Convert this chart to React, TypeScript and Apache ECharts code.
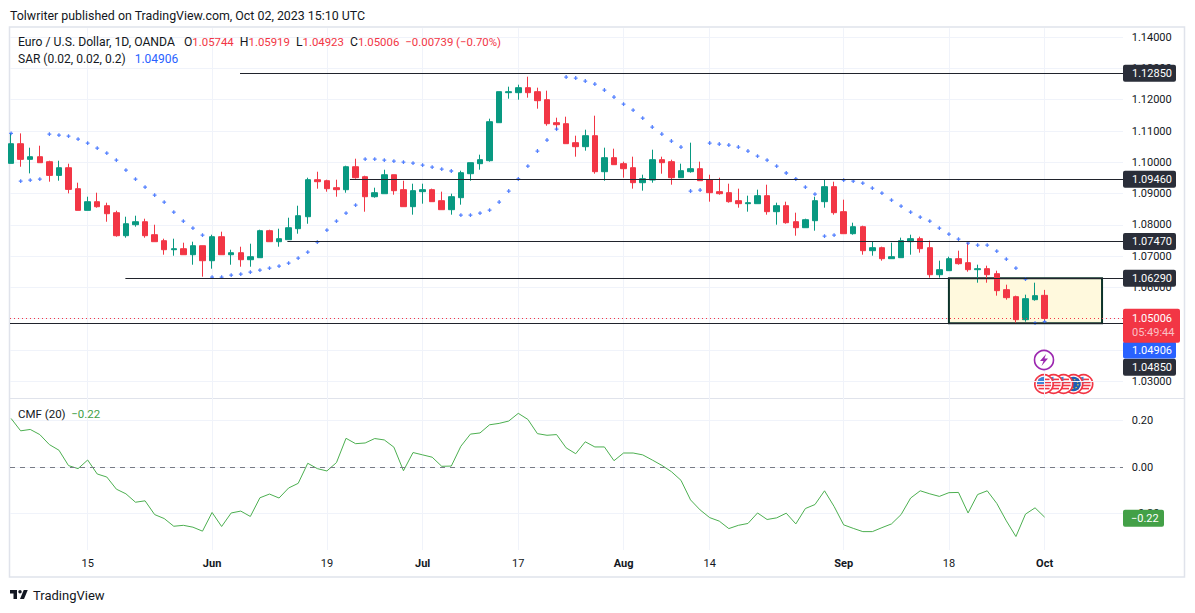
import * as echarts from 'echarts'
import React, { useEffect, useRef } from 'react'

// one value per trading day, May 3 to Oct 2 2023
const opens = [
  1.09965, 1.10594, 1.10093, 1.10178, 1.10018, 1.09581, 1.09826, 1.09155, 1.08462, 1.08739,
  1.08611, 1.08387, 1.07652, 1.08003, 1.08099, 1.07684, 1.07492, 1.07204, 1.07236, 1.07044,
  1.07332, 1.06852, 1.0762, 1.07044, 1.07108, 1.06884, 1.06948, 1.07812, 1.0746, 1.07524,
  1.07876, 1.08259, 1.09443, 1.09411, 1.09187, 1.09123, 1.09858, 1.09539, 1.08899, 1.08995,
  1.09602, 1.09124, 1.0858, 1.0906, 1.09124, 1.08772, 1.08484, 1.08868, 1.09635, 1.09955,
  1.10051, 1.11266, 1.12226, 1.12226, 1.12386, 1.12258, 1.12002, 1.11266, 1.11234, 1.10627,
  1.10499, 1.1085, 1.09699, 1.10147, 1.09955, 1.09827, 1.09347, 1.09433, 1.10083, 1.10019,
  1.09507, 1.09699, 1.09795, 1.09443, 1.0906, 1.09028, 1.08772, 1.08676, 1.08676, 1.08932,
  1.0842, 1.08612, 1.081, 1.07908, 1.08132, 1.0874, 1.0922, 1.0842, 1.07716, 1.0794,
  1.07173, 1.07269, 1.06917, 1.06949, 1.07461, 1.07557, 1.07269, 1.06405, 1.06533, 1.06917,
  1.06789, 1.06565, 1.06597, 1.06437, 1.05926, 1.05702, 1.04966, 1.05606, 1.05744,
]
const closes = [
  1.10594, 1.10093, 1.10178, 1.09986, 1.09581, 1.09826, 1.09133, 1.08462, 1.08739, 1.08579,
  1.08355, 1.07652, 1.08035, 1.08099, 1.07652, 1.0746, 1.07204, 1.07236, 1.07044, 1.07332,
  1.06852, 1.0762, 1.07044, 1.07108, 1.06884, 1.0698, 1.07812, 1.0746, 1.07556, 1.07907,
  1.08291, 1.09443, 1.09379, 1.09155, 1.09123, 1.09858, 1.09507, 1.08899, 1.09027, 1.09602,
  1.09091, 1.0858, 1.09092, 1.09124, 1.0874, 1.08484, 1.089, 1.09667, 1.09987, 1.10083,
  1.11298, 1.12258, 1.12258, 1.12386, 1.12226, 1.1197, 1.11234, 1.11202, 1.10595, 1.10499,
  1.1085, 1.09699, 1.10147, 1.09923, 1.09795, 1.09347, 1.09475, 1.10083, 1.09987, 1.09507,
  1.09731, 1.09795, 1.09411, 1.09028, 1.08996, 1.0874, 1.08676, 1.08708, 1.08932, 1.0842,
  1.08612, 1.08068, 1.07908, 1.08164, 1.08772, 1.0922, 1.08388, 1.07716, 1.0794, 1.07173,
  1.07269, 1.06917, 1.06981, 1.07493, 1.07557, 1.07237, 1.06405, 1.06565, 1.06917, 1.06757,
  1.06565, 1.06597, 1.06405, 1.05894, 1.0567, 1.04966, 1.05638, 1.05734, 1.05006,
]
const lows = [
  1.09965, 1.09858, 1.09645, 1.09986, 1.09379, 1.09411, 1.09006, 1.08462, 1.08462, 1.08547,
  1.08099, 1.0762, 1.07588, 1.0794, 1.07588, 1.0746, 1.07044, 1.07012, 1.07044, 1.06724,
  1.06341, 1.06596, 1.07044, 1.06724, 1.0666, 1.0666, 1.06948, 1.0746, 1.073, 1.07524,
  1.07716, 1.08035, 1.09155, 1.09059, 1.08899, 1.09027, 1.09475, 1.08419, 1.08867, 1.08995,
  1.08963, 1.0858, 1.08324, 1.08676, 1.0874, 1.08484, 1.08324, 1.08644, 1.09411, 1.09763,
  1.10019, 1.11266, 1.12034, 1.12002, 1.12066, 1.11714, 1.1117, 1.11042, 1.10595, 1.10179,
  1.10371, 1.09635, 1.09411, 1.09923, 1.09507, 1.09156, 1.09092, 1.09347, 1.09635, 1.09283,
  1.09507, 1.09667, 1.09411, 1.0874, 1.08964, 1.08708, 1.08548, 1.0842, 1.08676, 1.08324,
  1.08004, 1.08036, 1.07652, 1.07908, 1.07812, 1.08548, 1.08324, 1.07716, 1.07684, 1.07045,
  1.07013, 1.06853, 1.06917, 1.06949, 1.07045, 1.07109, 1.06309, 1.06309, 1.06533, 1.06725,
  1.06501, 1.06149, 1.06149, 1.05734, 1.05606, 1.0487, 1.04902, 1.05574, 1.04923,
]
const highs = [
  1.10924, 1.10924, 1.10466, 1.1053, 1.1005, 1.1005, 1.09954, 1.09347, 1.08899, 1.09027,
  1.08707, 1.08451, 1.08259, 1.08291, 1.08195, 1.08003, 1.07556, 1.07556, 1.07428, 1.0746,
  1.07332, 1.07684, 1.0778, 1.07204, 1.073, 1.07396, 1.07844, 1.07844, 1.07876, 1.08227,
  1.08611, 1.09507, 1.09698, 1.09443, 1.09443, 1.0989, 1.10114, 1.0957, 1.09187, 1.09762,
  1.09602, 1.09411, 1.09315, 1.09315, 1.09156, 1.0906, 1.08996, 1.09731, 1.09987, 1.10243,
  1.11394, 1.12258, 1.12418, 1.12481, 1.12737, 1.12386, 1.1229, 1.11426, 1.11458, 1.1085,
  1.11042, 1.1149, 1.10467, 1.10435, 1.10019, 1.10179, 1.09603, 1.10403, 1.10179, 1.10083,
  1.09955, 1.10627, 1.10019, 1.09603, 1.09507, 1.09315, 1.09156, 1.08932, 1.09124, 1.09283,
  1.08708, 1.0874, 1.08388, 1.08196, 1.089, 1.09443, 1.09379, 1.08804, 1.08068, 1.07972,
  1.07461, 1.07301, 1.07429, 1.07589, 1.07684, 1.07621, 1.07493, 1.06853, 1.06981, 1.07173,
  1.07429, 1.06725, 1.06693, 1.06533, 1.06085, 1.05734, 1.05766, 1.06149, 1.05919,
]
const sar = [
  1.10924, 1.094, 1.09432, 1.09464, 1.10903, 1.10871, 1.10839, 1.10743, 1.10615, 1.10455,
  1.10295, 1.10072, 1.09752, 1.09464, 1.09208, 1.08952, 1.08728, 1.08409, 1.08121, 1.07897,
  1.07673, 1.0633, 1.0633, 1.06394, 1.06426, 1.0649, 1.06554, 1.06618, 1.06682, 1.06777,
  1.06937, 1.07129, 1.07449, 1.07833, 1.08121, 1.08377, 1.08632, 1.10103, 1.10103, 1.10072,
  1.1004, 1.10008, 1.09976, 1.09912, 1.09848, 1.09784, 1.09721, 1.08313, 1.08313, 1.08377,
  1.08473, 1.08729, 1.09081, 1.09465, 1.0988, 1.1036, 1.10712, 1.11064, 1.12727, 1.12695,
  1.12599, 1.12503, 1.12311, 1.12087, 1.11863, 1.11671, 1.11415, 1.11128, 1.10904, 1.1068,
  1.10488, 1.09081, 1.09113, 1.10616, 1.10584, 1.10552, 1.10488, 1.1036, 1.102, 1.10072,
  1.0988, 1.09657, 1.09465, 1.09208, 1.08984, 1.07641, 1.07673, 1.09432, 1.094, 1.09336,
  1.09176, 1.09016, 1.08792, 1.086, 1.08408, 1.08248, 1.08121, 1.07897, 1.07705, 1.07545,
  1.07417, 1.07353, 1.07353, 1.07161, 1.06905, 1.06617, 1.06266, 1.04859, 1.04906,
]
const cmf = [
  0.208, 0.155, 0.161, 0.139, 0.096, 0.072, 0.006, -0.007, 0.03, -0.03,
  -0.043, -0.095, -0.115, -0.151, -0.145, -0.204, -0.221, -0.254, -0.25, -0.258,
  -0.275, -0.195, -0.255, -0.197, -0.189, -0.212, -0.132, -0.116, -0.133, -0.09,
  -0.07, 0.016, -0.007, -0.017, 0.019, 0.123, 0.1, 0.103, 0.122, 0.116,
  0.085, -0.016, 0.062, 0.052, 0.042, 0.003, 0.004, 0.089, 0.141, 0.146,
  0.181, 0.187, 0.197, 0.23, 0.204, 0.143, 0.136, 0.139, 0.082, 0.057,
  0.108, 0.086, 0.086, 0.027, 0.06, 0.06, 0.052, 0.03, 0.007, -0.02,
  -0.057, -0.141, -0.184, -0.217, -0.232, -0.264, -0.25, -0.242, -0.197, -0.225,
  -0.218, -0.198, -0.244, -0.178, -0.161, -0.102, -0.169, -0.248, -0.263, -0.277,
  -0.277, -0.26, -0.244, -0.204, -0.133, -0.102, -0.115, -0.126, -0.11, -0.109,
  -0.197, -0.118, -0.102, -0.156, -0.231, -0.298, -0.202, -0.175, -0.215,
]

const timeTicks = [8, 21, 33, 43, 53, 64, 73, 87, 98, 108]
const timeLabels = ['15', 'Jun', '19', 'Jul', '17', 'Aug', '14', 'Sep', '18', 'Oct']
const monthNames = ['Jun', 'Jul', 'Aug', 'Sep', 'Oct']
const priceTicks = [1.03, 1.04, 1.05, 1.06, 1.07, 1.08, 1.09, 1.1, 1.11, 1.12, 1.13, 1.14]
const cmfTicks = [-0.2, 0, 0.2]

const levelPrices = [1.1285, 1.0946, 1.0747, 1.0629, 1.0485]
const levelStarts = [23.92, 35.4, 28.87, 11.94, -0.115]
const levelTagShift = [0, 0, 0, 0, 44]
const boxFrom = [98, 1.0629]
const boxTo = [114, 1.0485]
const lastPrice = 1.05006
const lastSar = 1.04906
const lastCmf = -0.22
const countdown = '05:49:44'

const UP = '#089981'
const DOWN = '#f23645'
const BLUE = '#2962ff'
const GRID = '#f0f3fa'
const FRAME = '#e0e3eb'
const TEXT = '#131722'
const TAG = '#2a2e39'
const CMF_GREEN = '#43a047'
const FONT = 'Roboto, sans-serif'

const X_MIN = -0.115
const X_MAX = 116.19

const LOGO =
  'M14 22H7V11H0V4h14v18zM28 22h-8l7.5-18h8L28 22zM20 4a3.5 3.5 0 1 1 0 7a3.5 3.5 0 0 1 0-7z'

function fmtMinus(v: number, digits: number) {
  const s = Math.abs(v).toFixed(digits)
  return v < 0 ? '\u2212' + s : s
}

// price tag sitting on the axis column, hung off a markLine end
function tagLine(value: number, fill: string, shift: number, from: number, visible: boolean) {
  return [
    {
      coord: [from, value],
      lineStyle: { opacity: visible ? 1 : 0 },
      label: {
        show: true,
        opacity: 1,
        position: 'end',
        distance: 0,
        offset: [0, shift],
        formatter: value.toFixed(5),
        color: '#fff',
        backgroundColor: fill,
        borderRadius: 2,
        padding: [3, 0, 2, 9],
        width: 44,
        lineHeight: 12,
        fontSize: 11,
        fontFamily: FONT,
      },
    },
    { coord: [X_MAX, value] },
  ]
}

// small round calendar icons under the last bars
function flagIcon(cx: number, kind: string) {
  const r = 7.2
  const stripes = [-4.6, -1.5, 1.5, 4.6].map((y) => {
    const half = Math.sqrt(r * r - y * y)
    return {
      type: 'line',
      shape: { x1: -half, y1: y, x2: half, y2: y },
      style: { stroke: DOWN, lineWidth: 1.6 },
    }
  })
  const children: any[] = [
    { type: 'circle', shape: { r: 9.2 }, style: { fill: '#fff', stroke: DOWN, lineWidth: 1.7 } },
    ...stripes,
  ]
  if (kind === 'us') {
    children.push({
      type: 'sector',
      shape: { r: r, r0: 0, startAngle: Math.PI, endAngle: Math.PI * 1.5 },
      style: { fill: '#3d85d8' },
    })
  }
  if (kind === 'eu') {
    children.push({ type: 'circle', shape: { r: r }, style: { fill: '#1f5fb4' } })
    children.push({
      type: 'circle',
      shape: { r: 4.5 },
      style: { fill: 'none', stroke: '#f5d33b', lineWidth: 1.2, lineDash: [1.5, 2] },
    })
  }
  return { type: 'group', x: cx, y: 384, silent: true, children }
}

export default function App() {
  const chartRef = useRef<HTMLDivElement>(null)

  useEffect(() => {
    echarts.graphic.registerShape('tvlogo', echarts.graphic.extendPath(LOGO, {}))
    const chart = echarts.init(chartRef.current, null, { renderer: 'svg' })

    const bars = opens.map((o, i) => [i, o, closes[i], lows[i], highs[i]])
    const sarPoints = sar.map((v, i) => [i, v])
    const cmfPoints = cmf.map((v, i) => [i, v])

    const levelLines = levelPrices.map((p, i) =>
      tagLine(p, TAG, levelTagShift[i], levelStarts[i], true),
    )
    const lastLine: any = tagLine(lastPrice, DOWN, 7.4, X_MIN, true)
    lastLine[0].label = {
      ...lastLine[0].label,
      formatter: '{a|' + lastPrice.toFixed(5) + '}\n{b|' + countdown + '}',
      width: 48,
      padding: [3, 0, 3, 9],
      rich: {
        a: { color: '#fff', fontSize: 11, lineHeight: 14, fontFamily: FONT },
        b: { color: 'rgba(255,255,255,0.7)', fontSize: 11, lineHeight: 14, fontFamily: FONT },
      },
    }
    const cmfTag: any = tagLine(lastCmf, CMF_GREEN, 0, 116.1, false)
    cmfTag[0].label = {
      ...cmfTag[0].label,
      formatter: fmtMinus(lastCmf, 2),
      padding: [3, 0, 2, 8],
      width: 33,
    }

    const option: any = {
      animation: false,
      backgroundColor: '#fff',
      textStyle: { fontFamily: FONT },
      grid: [
        { left: 10, right: 72, top: 28.2, bottom: 213.8 },
        { left: 10, right: 72, top: 399, bottom: 63 },
      ],
      xAxis: [
        {
          type: 'value',
          gridIndex: 0,
          min: X_MIN,
          max: X_MAX,
          axisLine: { show: false },
          axisTick: { show: false, customValues: timeTicks },
          axisLabel: { show: false },
          splitLine: { lineStyle: { color: GRID, width: 1 } },
        },
        {
          type: 'value',
          gridIndex: 1,
          min: X_MIN,
          max: X_MAX,
          axisLine: { show: false },
          axisTick: { show: false, customValues: timeTicks },
          axisLabel: {
            customValues: timeTicks,
            margin: 8,
            fontSize: 11,
            color: TEXT,
            formatter: (v: number) => {
              const name = timeLabels[timeTicks.indexOf(v)]
              return monthNames.includes(name) ? '{m|' + name + '}' : name
            },
            rich: { m: { fontWeight: 'bold', fontSize: 11, color: TEXT, fontFamily: FONT } },
          },
          splitLine: { lineStyle: { color: GRID, width: 1 } },
        },
      ],
      yAxis: [
        {
          type: 'value',
          gridIndex: 0,
          position: 'right',
          min: 1.02423,
          max: 1.14288,
          axisLine: { show: false },
          axisTick: { show: false, customValues: priceTicks },
          axisLabel: {
            customValues: priceTicks,
            margin: 8.7,
            fontSize: 11,
            color: TEXT,
            formatter: (v: number) => v.toFixed(5),
          },
          splitLine: { lineStyle: { color: GRID, width: 1 } },
        },
        {
          type: 'value',
          gridIndex: 1,
          position: 'right',
          min: -0.3558,
          max: 0.2915,
          axisLine: { show: false },
          axisTick: { show: false, customValues: cmfTicks },
          axisLabel: {
            customValues: cmfTicks,
            margin: 8.7,
            fontSize: 11,
            color: TEXT,
            formatter: (v: number) => fmtMinus(v, 2),
          },
          splitLine: { lineStyle: { color: GRID, width: 1 } },
        },
      ],
      series: [
        {
          name: 'EURUSD',
          type: 'candlestick',
          data: bars,
          barWidth: 6,
          clip: true,
          z: 3,
          itemStyle: {
            color: UP,
            color0: DOWN,
            borderColor: UP,
            borderColor0: DOWN,
            borderWidth: 1,
          },
          markArea: {
            silent: true,
            z: 1,
            itemStyle: {
              color: '#fff9dd',
              borderColor: '#0c3229',
              borderWidth: 2,
            },
            data: [[{ coord: boxFrom }, { coord: boxTo }]],
          },
        },
        {
          name: 'SAR',
          type: 'scatter',
          data: sarPoints,
          symbol: 'path://M2 0h2v2h2v2H4v2H2V4H0V2h2z',
          symbolSize: 3.8,
          itemStyle: { color: BLUE },
          z: 4,
        },
        {
          // carries the horizontal levels and their axis tags
          name: 'levels',
          type: 'line',
          data: [],
          z: 5,
          markLine: {
            silent: true,
            symbol: 'none',
            lineStyle: { color: '#20232c', width: 1, type: 'solid' },
            data: [...levelLines, tagLine(lastSar, BLUE, 28.5, 116.1, false)],
          },
        },
        {
          name: 'last',
          type: 'line',
          data: [],
          z: 6,
          markLine: {
            silent: true,
            symbol: 'none',
            lineStyle: { color: DOWN, width: 1, type: [1, 3] },
            data: [lastLine],
          },
        },
        {
          name: 'CMF',
          type: 'line',
          xAxisIndex: 1,
          yAxisIndex: 1,
          data: cmfPoints,
          showSymbol: false,
          lineStyle: { color: '#4caf50', width: 1 },
          z: 3,
          markLine: {
            silent: true,
            symbol: 'none',
            lineStyle: { color: '#787b86', width: 1, type: [5, 5] },
            data: [
              [{ coord: [X_MIN, 0], label: { show: false } }, { coord: [X_MAX, 0] }],
              cmfTag,
            ],
          },
        },
      ],
      graphic: [
        {
          type: 'rect',
          silent: true,
          z: -1,
          shape: { x: 9.5, y: 27, width: 1175, height: 550 },
          style: { fill: 'none', stroke: FRAME, lineWidth: 1.5 },
        },
        {
          type: 'line',
          silent: true,
          z: -1,
          shape: { x1: 10, y1: 398.5, x2: 1184, y2: 398.5 },
          style: { stroke: FRAME, lineWidth: 1 },
        },
        {
          type: 'text',
          x: 10,
          y: 15,
          style: {
            text: 'Tolwriter published on TradingView.com, Oct 02, 2023 15:10 UTC',
            fill: TEXT,
            font: '12.4px ' + FONT,
            verticalAlign: 'middle',
          },
        },
        {
          type: 'text',
          x: 18,
          y: 42,
          z: 20,
          style: {
            text:
              'Euro / U.S. Dollar, 1D, OANDA   O{r|1.05744}  H{r|1.05919}  L{r|1.04923}  C{r|1.05006}  {r|\u22120.00739 (\u22120.70%)}',
            fill: TEXT,
            font: '12.2px ' + FONT,
            verticalAlign: 'middle',
            rich: { r: { fill: DOWN, font: '11.4px ' + FONT } },
          },
        },
        {
          type: 'text',
          x: 18,
          y: 59,
          z: 20,
          style: {
            text: 'SAR (0.02, 0.02, 0.2)   {b|1.04906}',
            fill: TEXT,
            font: '12px ' + FONT,
            verticalAlign: 'middle',
            rich: { b: { fill: BLUE, font: '12px ' + FONT } },
          },
        },
        {
          type: 'text',
          x: 18,
          y: 414,
          z: 20,
          style: {
            text: 'CMF (20)  {g|\u22120.22}',
            fill: TEXT,
            font: '11.5px ' + FONT,
            verticalAlign: 'middle',
            rich: { g: { fill: CMF_GREEN, font: '11.5px ' + FONT } },
          },
        },
        {
          type: 'tvlogo',
          x: 10,
          y: 588,
          scaleX: 0.5,
          scaleY: 0.5,
          style: { fill: TEXT },
        },
        {
          type: 'text',
          x: 33,
          y: 595,
          style: {
            text: 'TradingView',
            fill: TEXT,
            font: '13px ' + FONT,
            verticalAlign: 'middle',
          },
        },
        {
          type: 'circle',
          silent: true,
          z: 10,
          shape: { cx: 1044, cy: 360, r: 9.5 },
          style: { fill: '#fff', stroke: '#9c27b0', lineWidth: 1.6 },
        },
        {
          type: 'polygon',
          silent: true,
          z: 10,
          shape: {
            points: [
              [1046, 354],
              [1040, 361],
              [1043.5, 361],
              [1041.5, 366],
              [1048, 358.5],
              [1044.5, 358.5],
            ],
          },
          style: { fill: '#9c27b0' },
        },
        { ...flagIcon(1083.5, 'us'), z: 10 },
        { ...flagIcon(1073.5, 'eu'), z: 10 },
        { ...flagIcon(1063.5, 'us'), z: 10 },
        { ...flagIcon(1053.5, 'us'), z: 10 },
        { ...flagIcon(1044, 'us'), z: 10 },
      ],
    }

    chart.setOption(option)

    return () => {
      chart.dispose()
    }
  }, [])

  return (
    <div
      ref={chartRef}
      style={{ position: 'fixed', left: 0, top: 0, width: 1195, height: 613 }}
    />
  )
}
